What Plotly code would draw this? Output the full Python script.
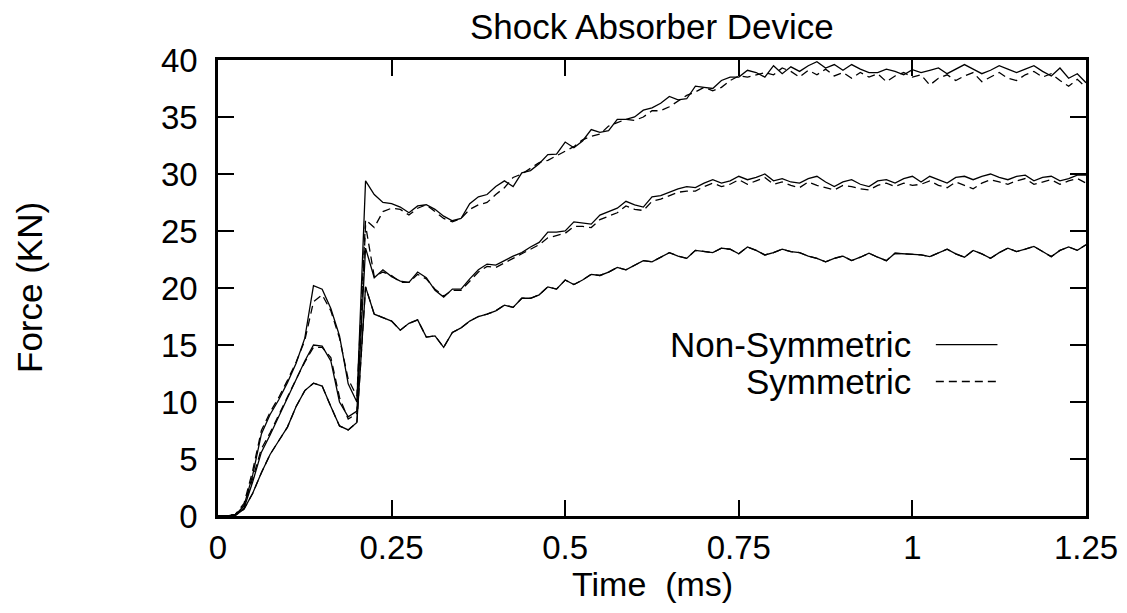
"""
Shock absorber device: force vs time, non-symmetric vs symmetric runs.
"""
import plotly.graph_objects as go

# Chart constants (page body adds an 8px margin, so the figure is a bit smaller)
FIG_W, FIG_H = 1111, 597
FONT = dict(family="Liberation Sans, Arial, sans-serif", size=35, color="black")
TICK_FONT = dict(family="Liberation Sans, Arial, sans-serif", size=33, color="black")
XTITLE_FONT = dict(family="Liberation Sans, Arial, sans-serif", size=34, color="black")
LINE_W = 1.3
DASH = "8px,5px"

# Sampling grid (ms)
time_ms = [i * 0.0125 for i in range(101)]

# Upper load case
nonsym_high = [
    0, 0, 0.1, 0.9, 3.6, 7.2, 8.9, 10.2, 11.7, 13.4,
    15.6, 20.2, 19.9, 18.2, 15.8, 11.6, 10.0, 29.4, 28.2, 27.5,
    27.4, 27.1, 26.6, 27.2, 27.3, 26.9, 26.3, 25.9, 26.1, 27.4,
    28.0, 28.2, 28.9, 29.4, 28.9, 30.1, 30.3, 30.9, 31.7, 31.75,
    32.8, 32.3, 32.9, 33.9, 33.65, 33.8, 34.8, 34.8, 35.0, 35.6,
    35.8, 36.2, 36.8, 36.5, 36.6, 37.7, 37.6, 37.5, 38.2, 38.5,
    38.5, 39.1, 38.9, 38.5, 39.5, 38.8, 39.4, 39.0, 39.5, 39.85,
    39.3, 39.6, 39.1, 39.6, 39.2, 38.9, 38.9, 39.2, 39.0, 38.7,
    39.15, 38.9, 39.1, 39.3, 38.8, 39.2, 39.6, 39.2, 38.8, 39.1,
    39.5, 39.2, 38.9, 39.2, 39.5, 39.0, 38.6, 39.3, 38.4, 38.8,
    38.0,
]
sym_high = [
    0, 0, 0.15, 1.1, 4.0, 7.5, 9.1, 10.4, 11.9, 13.5,
    15.4, 18.8, 19.4, 18.0, 15.6, 12.0, 10.5, 26.0, 25.3, 26.7,
    27.0, 26.9, 26.4, 27.0, 27.3, 26.7, 26.1, 25.8, 26.1, 26.9,
    27.3, 27.5, 28.2, 28.8, 29.7, 30.0, 30.5, 31.0, 31.2, 31.6,
    32.0, 32.4, 33.0, 33.3, 33.5, 34.2, 34.5, 34.8, 34.7, 35.0,
    35.55, 35.55, 35.9, 36.4, 36.9, 37.2, 37.6, 37.3, 37.6, 38.2,
    38.6, 38.5, 38.7, 38.9, 38.7, 39.3, 39.0, 38.5, 39.1, 38.7,
    39.2, 38.6, 38.9, 38.4, 38.9, 38.5, 38.8, 38.1, 38.6, 38.9,
    38.5, 38.7, 37.8, 38.4, 38.7, 38.2, 38.6, 38.9, 38.1, 38.5,
    38.9, 38.4, 38.2, 38.7, 39.0, 38.5, 38.8, 38.2, 37.7, 38.3,
    37.6,
]

# Middle load case
nonsym_mid = [
    0, 0, 0.1, 0.7, 3.0, 5.6, 7.1, 8.7, 10.3, 11.9,
    13.6, 15.0, 14.9, 13.6, 10.0, 8.7, 9.2, 23.5, 20.9, 21.6,
    21.0, 20.6, 20.5, 21.4, 20.9, 19.8, 19.2, 19.9, 19.9, 20.8,
    21.6, 22.1, 22.0, 22.4, 22.8, 23.1, 23.6, 24.0, 24.9, 24.9,
    25.0, 25.8, 25.7, 25.6, 26.4, 26.7, 27.0, 27.6, 27.3, 27.1,
    28.0, 28.1, 28.4, 28.7, 28.9, 28.8, 29.2, 29.5, 29.2, 29.4,
    29.8, 29.5, 29.7, 30.0, 29.4, 29.6, 29.3, 29.2, 29.6, 29.8,
    29.3, 28.9, 29.3, 29.5, 29.1, 28.9, 29.4, 29.5, 29.2, 29.6,
    29.8, 29.3, 29.8, 29.5, 29.2, 29.7, 29.8, 29.5, 29.8, 30.0,
    29.7, 29.5, 29.8, 29.9, 29.4, 29.7, 29.8, 29.4, 29.6, 29.9,
    29.9,
]
sym_mid = [
    0, 0, 0.15, 0.9, 3.3, 5.9, 7.3, 8.9, 10.5, 12.0,
    13.5, 14.8, 14.8, 13.9, 10.4, 8.5, 9.0, 25.5, 21.0, 21.4,
    21.1, 20.5, 20.5, 21.2, 20.8, 19.9, 19.3, 19.8, 19.8, 20.6,
    21.4, 21.9, 21.8, 22.2, 22.6, 23.0, 23.4, 23.8, 24.4, 24.6,
    24.8, 25.4, 25.4, 25.3, 26.0, 26.3, 26.6, 27.2, 26.9, 26.8,
    27.6, 27.8, 28.1, 28.4, 28.5, 28.5, 28.9, 29.2, 28.9, 29.1,
    29.5, 29.1, 29.4, 29.7, 29.1, 29.3, 29.0, 28.8, 29.3, 29.0,
    28.8, 28.6, 29.0, 28.9, 28.7, 28.6, 29.0, 29.2, 28.9, 29.2,
    29.0, 29.1, 29.4, 29.0, 28.8, 29.3, 29.0, 28.7, 29.2, 29.5,
    29.3, 29.1, 29.4, 29.6, 29.1, 29.3, 29.5, 29.1, 29.4, 29.6,
    29.2,
]

# Lower load case (both runs overlap)
nonsym_low = [
    0, 0, 0.05, 0.6, 2.0, 3.8, 5.4, 6.6, 7.8, 9.6,
    11.0, 11.65, 11.4, 9.6, 7.9, 7.55, 8.2, 20.1, 17.7, 17.4,
    17.1, 16.3, 16.9, 17.2, 15.7, 15.8, 14.8, 16.1, 16.5, 17.1,
    17.5, 17.7, 18.0, 18.5, 18.3, 19.1, 19.1, 19.4, 20.1, 19.9,
    20.7, 20.3, 20.7, 21.2, 21.1, 21.4, 21.8, 21.6, 22.0, 22.4,
    22.3, 22.7, 23.1, 22.8, 22.6, 23.3, 23.2, 23.1, 23.5, 23.4,
    23.0, 23.6, 23.3, 22.9, 23.1, 23.4, 23.2, 23.1, 22.8, 22.6,
    22.3, 22.6, 22.8, 22.4, 22.7, 23.05, 22.7, 22.4, 23.05, 23.0,
    23.0, 22.9, 22.75, 23.1, 23.4, 23.0, 22.7, 23.3, 23.0, 22.6,
    23.1, 23.5, 23.2, 23.4, 23.65, 23.2, 22.75, 23.3, 23.6, 23.3,
    23.8,
]
sym_low = list(nonsym_low)

x_ticks = [0, 0.25, 0.5, 0.75, 1, 1.25]
x_tick_text = ["0", "0.25", "0.5", "0.75", "1", "1.25"]
y_ticks = [0, 5, 10, 15, 20, 25, 30, 35, 40]

fig = go.Figure()

pairs = [(nonsym_high, sym_high), (nonsym_mid, sym_mid), (nonsym_low, sym_low)]
for solid, dashed in pairs:
    fig.add_trace(go.Scatter(x=time_ms, y=solid, mode="lines",
                             line=dict(color="black", width=LINE_W),
                             showlegend=False))
    fig.add_trace(go.Scatter(x=time_ms, y=dashed, mode="lines",
                             line=dict(color="black", width=LINE_W, dash=DASH),
                             showlegend=False))

axis_common = dict(
    showline=True, linecolor="black", linewidth=2.5, mirror="ticks",
    ticks="inside", ticklen=16, tickwidth=2, tickcolor="black",
    showgrid=False, zeroline=False, tickfont=TICK_FONT,
    ticklabeloverflow="allow", automargin=False,
)
fig.update_xaxes(range=[0, 1.25], tickvals=x_ticks, ticktext=x_tick_text,
                 ticklabelstandoff=1, **axis_common)
fig.update_yaxes(range=[0, 40], tickvals=y_ticks, ticklabelstandoff=11,
                 **axis_common)

# Title and axis labels
fig.add_annotation(text="Shock Absorber Device", xref="paper", yref="paper",
                   x=0.5, y=1 + 33 / 456, yanchor="middle", showarrow=False, font=FONT)
fig.add_annotation(text="Time  (ms)", xref="paper", yref="paper",
                   x=0.5, y=-68 / 456, yanchor="middle", showarrow=False,
                   font=XTITLE_FONT)
fig.add_annotation(text="Force (KN)", xref="paper", yref="paper",
                   x=-189 / 868, y=0.5, xanchor="center", yanchor="middle",
                   textangle=-90, showarrow=False, font=FONT)

# Key: label on the left, line sample on the right (gnuplot style)
key = [("Non-Symmetric", "solid", 0.376), ("Symmetric", DASH, 0.295)]
for label, dash, ky in key:
    fig.add_annotation(text=label, xref="paper", yref="paper", x=0.801, y=ky,
                       xanchor="right", yanchor="middle", showarrow=False, font=FONT)
    fig.add_shape(type="line", xref="paper", yref="paper",
                  x0=0.827, x1=0.898, y0=ky, y1=ky,
                  line=dict(color="black", width=LINE_W, dash=dash))

fig.update_layout(
    width=FIG_W, height=FIG_H,
    margin=dict(l=210, r=33, t=52, b=89),
    plot_bgcolor="white", paper_bgcolor="white",
    font=FONT, showlegend=False,
)

fig.write_html("out.html")
